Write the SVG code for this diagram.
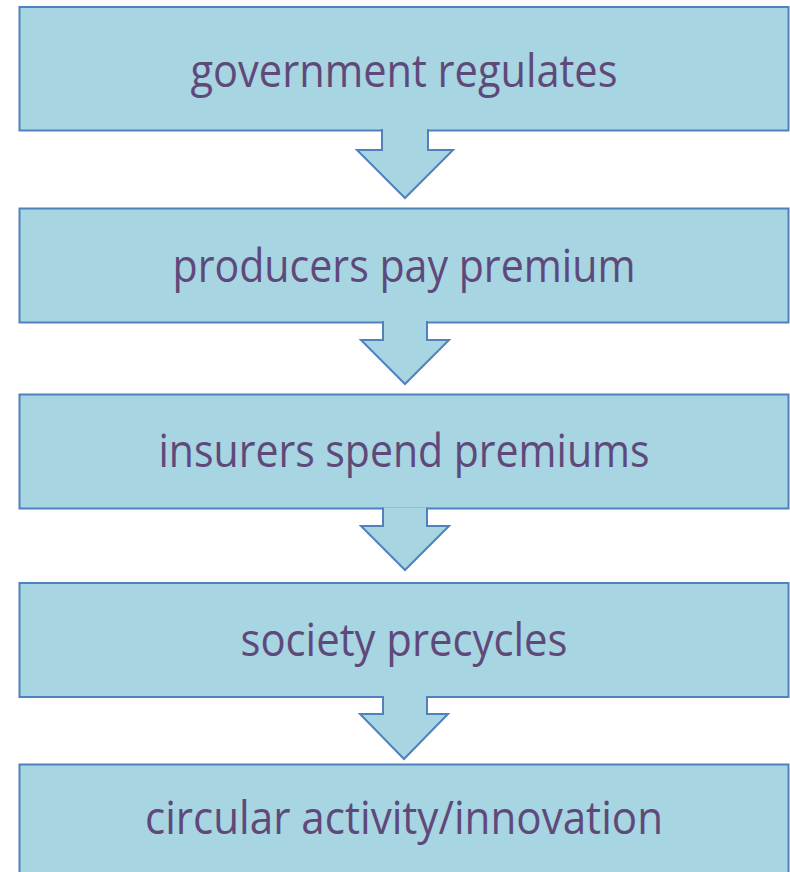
<svg xmlns="http://www.w3.org/2000/svg" width="790" height="872" viewBox="0 0 790 872">
<style>
.box{fill:#a7d5e1;stroke:#4f81bd;stroke-width:2}
.arr{fill:#a7d5e1;stroke:#4f81bd;stroke-width:2;stroke-linejoin:miter}
.lbl{font-family:"Open Sans","Liberation Sans",sans-serif;font-size:46px;fill:#5f497a;text-anchor:middle}
</style>
<rect width="790" height="872" fill="#ffffff"/>
<g id="node1"><rect class="box" x="19.5" y="7" width="769" height="123.5"/><text class="lbl" x="404" y="87" textLength="427" lengthAdjust="spacingAndGlyphs">government regulates</text></g>
<g id="node2"><rect class="box" x="19.5" y="208.5" width="769" height="114"/><text class="lbl" x="404" y="282" textLength="463" lengthAdjust="spacingAndGlyphs">producers pay premium</text></g>
<g id="node3"><rect class="box" x="19.5" y="394.5" width="769" height="114"/><text class="lbl" x="404" y="467" textLength="491" lengthAdjust="spacingAndGlyphs">insurers spend premiums</text></g>
<g id="node4"><rect class="box" x="19.5" y="583" width="769" height="114"/><text class="lbl" x="404" y="656" textLength="327" lengthAdjust="spacingAndGlyphs">society precycles</text></g>
<g id="node5"><rect class="box" x="19.5" y="764.5" width="769" height="120"/><text class="lbl" x="404" y="834" textLength="518" lengthAdjust="spacingAndGlyphs">circular activity/innovation</text></g>
<g id="connectors">
<path class="arr" d="M382,129 V150 H357 L405,198 L453,150 H428 V129"/>
<path class="arr" d="M383,321 V340 H361 L405,384 L449,340 H427 V321"/>
<path class="arr" d="M383,507.5 V526 H361 L405,570 L449,526 H427 V507.5"/>
<path class="arr" d="M383,696 V714 H360 L404,759 L448,714 H427 V696"/>
</g>
</svg>
